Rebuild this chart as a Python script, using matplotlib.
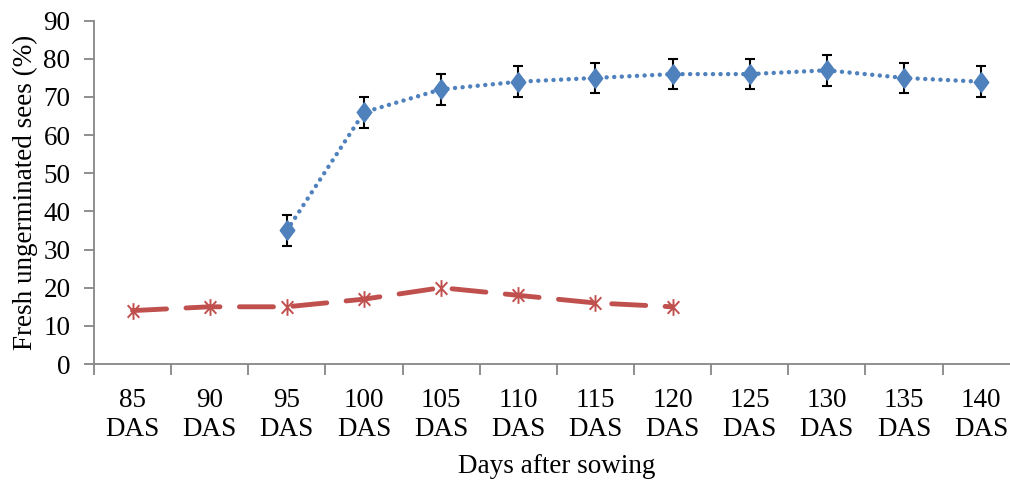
import numpy as np
import matplotlib.pyplot as plt
from matplotlib.path import Path

plt.rcParams['font.family'] = ['Liberation Serif', 'DejaVu Serif']

days = ["85", "90", "95", "100", "105", "110", "115", "120", "125", "130", "135", "140"]
blue_start = 2
blue_vals = [35, 66, 72, 74, 75, 76, 76, 77, 75, 74]
blue_err = [4, 4, 4, 4, 4, 4, 4, 4, 4, 4]
red_vals = [14, 15, 15, 17, 20, 18, 16, 15]

blue_c = "#4F81BD"
red_c = "#C0504D"
axis_c = "#868686"
fs = 19.5

diamond = Path([(0, 1), (0.75, 0), (0, -1), (-0.75, 0), (0, 1)],
               [Path.MOVETO, Path.LINETO, Path.LINETO, Path.LINETO, Path.CLOSEPOLY])
star = Path([(0, -1), (0, 1), (-0.7, -0.75), (0.7, 0.75), (-0.7, 0.75), (0.7, -0.75)],
            [Path.MOVETO, Path.LINETO, Path.MOVETO, Path.LINETO, Path.MOVETO, Path.LINETO])

fig = plt.figure(figsize=(10.1, 4.83), dpi=100)
ax = fig.add_axes([94 / 1010, 119 / 483, 925.7 / 1010, 343.3 / 483])

xb = np.arange(blue_start, blue_start + len(blue_vals))
xr = np.arange(len(red_vals))

ax.plot(xr, red_vals, color=red_c, linewidth=3.5, dashes=(7, 4),
        dash_capstyle='round', solid_capstyle='round', zorder=3)
ax.plot(xr, red_vals, linestyle='none', marker=star, markersize=12,
        markeredgecolor=red_c, markeredgewidth=1.4, zorder=4)

ax.errorbar(xb, blue_vals, yerr=blue_err, fmt='none', ecolor='black',
            elinewidth=1.5, capsize=3.5, capthick=1.5, zorder=4)
ax.plot(xb, blue_vals, color=blue_c, linewidth=3.2, dashes=(0.01, 1.7),
        dash_capstyle='round', zorder=3)
ax.plot(xb, blue_vals, linestyle='none', marker=diamond, markersize=14,
        markerfacecolor=blue_c, markeredgecolor=blue_c, zorder=5)

ax.set_xlim(-0.5, len(days) - 0.5)
ax.set_ylim(0, 90)
ax.set_yticks(np.arange(0, 91, 10))
ax.set_xticks(np.arange(-0.5, len(days), 1.0))
ax.set_xticklabels([])
ax.set_xticks(np.arange(len(days)), minor=True)
ax.set_xticklabels([d + "\nDAS" for d in days], minor=True)

ax.tick_params(axis='x', which='major', length=8, width=1.3, color=axis_c, direction='out')
ax.tick_params(axis='x', which='minor', length=0, pad=17.5, labelsize=fs)
ax.tick_params(axis='y', length=7, width=1.3, color=axis_c, direction='out', pad=10, labelsize=fs)
for lab in ax.get_xticklabels(minor=True):
    lab.set_linespacing(1.22)

for s in ['top', 'right']:
    ax.spines[s].set_visible(False)
for s in ['left', 'bottom']:
    ax.spines[s].set_color(axis_c)
    ax.spines[s].set_linewidth(1.3)

ax.set_ylabel("Fresh ungerminated sees (%)", fontsize=fs, labelpad=4)
ax.set_xlabel("Days after sowing", fontsize=fs, labelpad=8)

fig.savefig("out.png", dpi=100)
